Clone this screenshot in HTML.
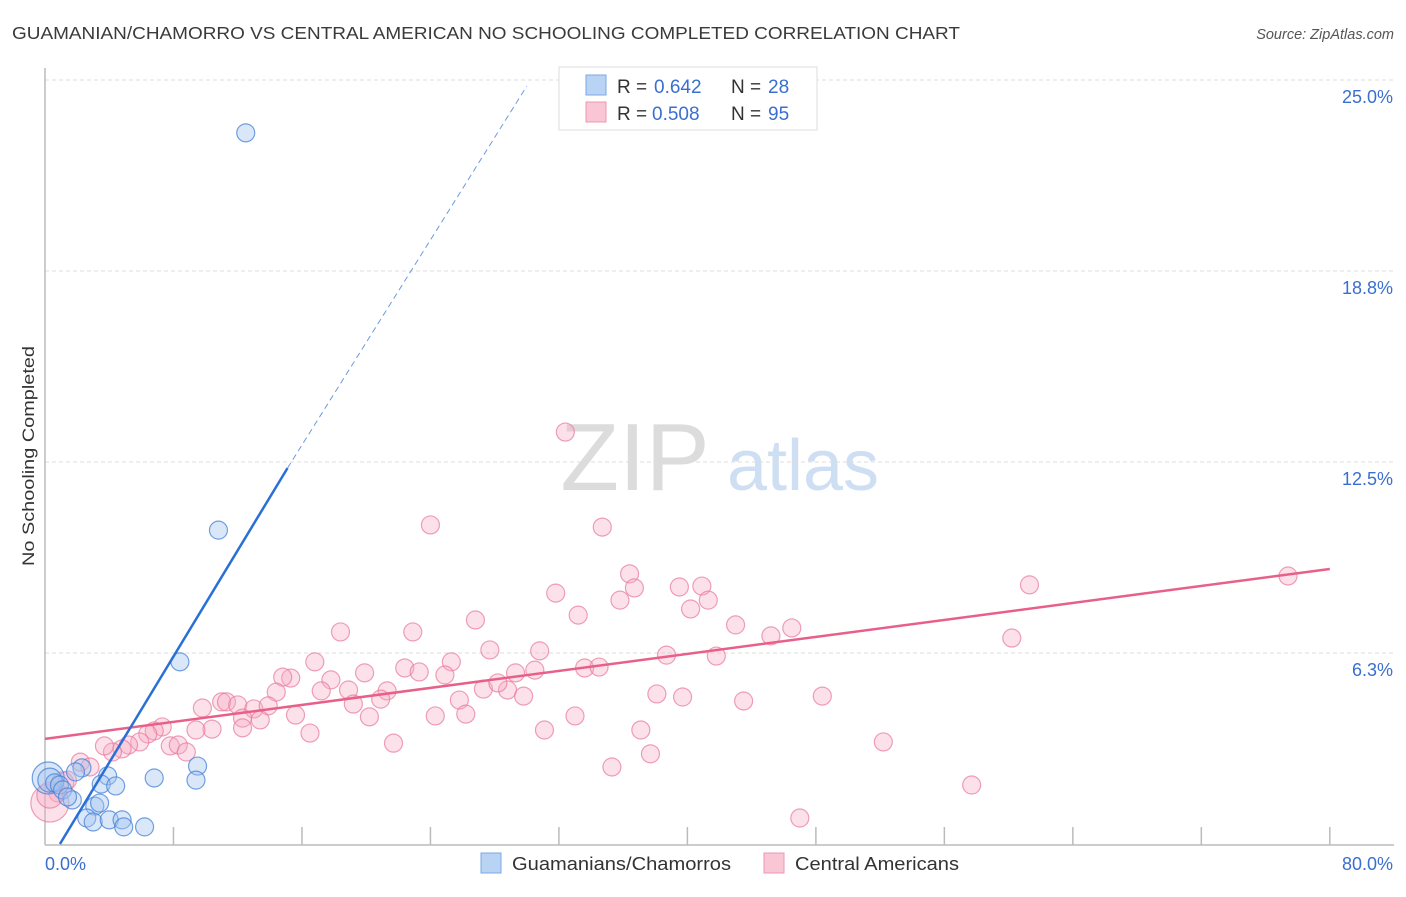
<!DOCTYPE html>
<html><head><meta charset="utf-8"><style>
body{margin:0;background:#fff;font-family:"Liberation Sans",sans-serif}
svg text{font-family:"Liberation Sans",sans-serif}
</style></head><body>
<svg id="chart" width="1406" height="892" viewBox="0 0 1406 892" xmlns="http://www.w3.org/2000/svg">
<text x="12" y="39" font-size="17.5" fill="#3a3a3a" textLength="948" lengthAdjust="spacingAndGlyphs">GUAMANIAN/CHAMORRO VS CENTRAL AMERICAN NO SCHOOLING COMPLETED CORRELATION CHART</text>
<text x="1394" y="39" font-size="14.5" fill="#555" text-anchor="end" font-style="italic">Source: ZipAtlas.com</text>
<g>
<text x="635" y="490" font-size="96" fill="#dcdcdc" text-anchor="middle" font-family="Liberation Serif,serif">ZIP</text>
<text x="803" y="490" font-size="72" fill="#cfdff3" text-anchor="middle">atlas</text>
</g>
<g id="grid"></g>
<g id="axes"></g>
<g id="pts"></g>
<g id="lines"></g>
<text transform="translate(34,456) rotate(-90)" font-size="17" fill="#333" text-anchor="middle" textLength="220" lengthAdjust="spacingAndGlyphs">No Schooling Completed</text>
<g>
<rect x="559" y="67" width="258" height="63" fill="#fff" stroke="#ddd"/>
<rect x="586" y="75" width="20" height="20" fill="#b9d3f5" stroke="#7aa7e6"/>
<rect x="586" y="102" width="20" height="20" fill="#f9c6d5" stroke="#ee95b0"/>
<text x="617" y="93" font-size="19" fill="#333">R =</text>
<text x="654" y="93" font-size="19" fill="#3a6fd0">0.642</text>
<text x="731" y="93" font-size="19" fill="#333">N =</text>
<text x="768" y="93" font-size="19" fill="#3a6fd0">28</text>
<text x="617" y="120" font-size="19" fill="#333">R =</text>
<text x="652" y="120" font-size="19" fill="#3a6fd0">0.508</text>
<text x="731" y="120" font-size="19" fill="#333">N =</text>
<text x="768" y="120" font-size="19" fill="#3a6fd0">95</text>
</g>
<g>
<rect x="481" y="853" width="20" height="20" fill="#b9d3f5" stroke="#7aa7e6"/>
<text x="512" y="870" font-size="18" fill="#333" textLength="219" lengthAdjust="spacingAndGlyphs">Guamanians/Chamorros</text>
<rect x="764" y="853" width="20" height="20" fill="#f9c6d5" stroke="#ee95b0"/>
<text x="795" y="870" font-size="18" fill="#333" textLength="164" lengthAdjust="spacingAndGlyphs">Central Americans</text>
</g>
</svg>
<script>
const yTicks=[25.0,18.8,12.5,6.3];
const yTickVals=[25,18.75,12.5,6.25];
const xTickLabels=["0.0%","80.0%"];
const pinkX=[32.4,24.0,34.7,36.4,31.8,35.8,36.7,39.5,40.9,41.3,40.2,33.2,26.8,18.4,22.9,43.0,45.2,46.5,60.2,61.3,77.4,27.7,30.8,38.7,41.8,16.8,25.3,22.4,23.3,15.3,14.8,19.9,17.8,24.9,29.3,30.5,33.6,34.5,14.4,17.2,18.9,21.3,27.3,28.8,28.2,29.8,25.8,38.1,39.7,43.5,48.4,9.8,11.0,11.3,12.0,13.0,13.9,19.2,20.9,15.6,20.2,24.3,26.2,33.0,12.3,13.4,10.4,9.4,12.3,7.3,6.8,16.5,6.4,31.1,37.1,7.8,8.3,8.8,5.9,5.2,4.8,4.2,3.7,21.7,52.2,37.7,2.2,2.8,35.3,57.7,1.1,1.4,0.8,0.3,47.0,0.3];
const pinkY=[13.48,10.44,10.37,8.84,8.21,7.98,8.38,8.41,8.44,7.98,7.69,7.49,7.33,6.94,6.94,7.17,6.81,7.07,6.74,8.48,8.77,6.35,6.32,6.18,6.15,5.96,5.96,5.76,5.63,5.43,5.46,5.60,5.37,5.53,5.60,5.69,5.76,5.79,4.97,5.01,5.04,5.01,5.07,5.04,5.27,4.84,4.71,4.91,4.81,4.68,4.84,4.45,4.65,4.65,4.55,4.42,4.52,4.58,4.74,4.22,4.16,4.19,4.25,4.19,4.12,4.06,3.76,3.73,3.80,3.83,3.70,3.63,3.60,3.73,3.73,3.21,3.24,3.01,3.34,3.24,3.11,3.01,3.21,3.30,3.34,2.95,2.68,2.52,2.52,1.93,2.00,2.09,1.67,1.34,0.85,1.60];
const pinkBig={93:19,95:13,90:11};
const blueX=[12.5,10.8,8.4,0.2,0.3,0.6,0.9,2.3,1.9,3.9,3.5,4.4,6.8,9.5,9.4,1.1,1.7,3.1,1.4,3.4,2.6,3.0,4.0,4.8,4.9,6.2];
const blueY=[23.27,10.27,5.96,2.16,2.09,2.00,1.93,2.49,2.36,2.23,1.96,1.90,2.16,2.55,2.09,1.77,1.44,1.24,1.54,1.34,0.85,0.72,0.79,0.79,0.56,0.56];
const blueBig={3:16,4:12};
const blueLine=[0.93,0,15.1,12.3];
const blueDashEnd=[30.0,24.8];
const pinkLine=[0,3.44,80,9.0];
const NS='http://www.w3.org/2000/svg';
const X=v=>45+v*16.06, Y=v=>844-v*30.56;
function mk(t,a,p){const e=document.createElementNS(NS,t);for(const k in a)e.setAttribute(k,a[k]);p.appendChild(e);return e;}
const grid=document.getElementById('grid'),axes=document.getElementById('axes'),pts=document.getElementById('pts'),lines=document.getElementById('lines');
yTickVals.forEach((v,i)=>{
 const l=mk('line',{x1:45,x2:1394,y1:Y(v),y2:Y(v),stroke:'#ddd','stroke-dasharray':'4,3'},grid);
 
 
 const t=mk('text',{x:1393,y:Y(v)+23,'font-size':18,fill:'#3a6fd0','text-anchor':'end'},grid);
 t.textContent=yTicks[i].toFixed(1)+'%';
 
 
});
let a=mk('line',{x1:45,x2:45,y1:68,y2:845,stroke:'#bbb','stroke-width':1.5},axes);


a=mk('line',{x1:45,x2:1394,y1:845,y2:845,stroke:'#bbb','stroke-width':1.5},axes);


for(let i=1;i<=10;i++){const tk=mk('line',{x1:X(i*8),x2:X(i*8),y1:827,y2:845,stroke:'#bbb','stroke-width':1.5},axes);
 
 }
let t=mk('text',{x:45,y:870,'font-size':18,fill:'#3a6fd0'},axes);t.textContent=xTickLabels[0];


t=mk('text',{x:1393,y:870,'font-size':18,fill:'#3a6fd0','text-anchor':'end'},axes);t.textContent=xTickLabels[1];


pinkX.forEach((x,i)=>{const c=mk('circle',{cx:X(x),cy:Y(pinkY[i]),r:pinkBig[i]||9,fill:'rgba(246,170,195,0.35)',stroke:'rgba(232,120,155,0.7)','stroke-width':1.2},pts);
 
 });
blueX.forEach((x,i)=>{const c=mk('circle',{cx:X(x),cy:Y(blueY[i]),r:blueBig[i]||9,fill:'rgba(160,195,240,0.4)',stroke:'rgba(70,130,215,0.75)','stroke-width':1.2},pts);
 
 });
let ln=mk('line',{x1:X(pinkLine[0]),y1:Y(pinkLine[1]),x2:X(pinkLine[2]),y2:Y(pinkLine[3]),stroke:'#e8608a','stroke-width':2.5},lines);


ln=mk('line',{x1:X(blueLine[0]),y1:Y(blueLine[1]),x2:X(blueLine[2]),y2:Y(blueLine[3]),stroke:'#2a6fd6','stroke-width':2.5},lines);


ln=mk('line',{x1:X(blueLine[2]),y1:Y(blueLine[3]),x2:X(blueDashEnd[0]),y2:Y(blueDashEnd[1]),stroke:'#6a9be0','stroke-width':1,'stroke-dasharray':'6,4'},lines);


</script>
</body></html>
